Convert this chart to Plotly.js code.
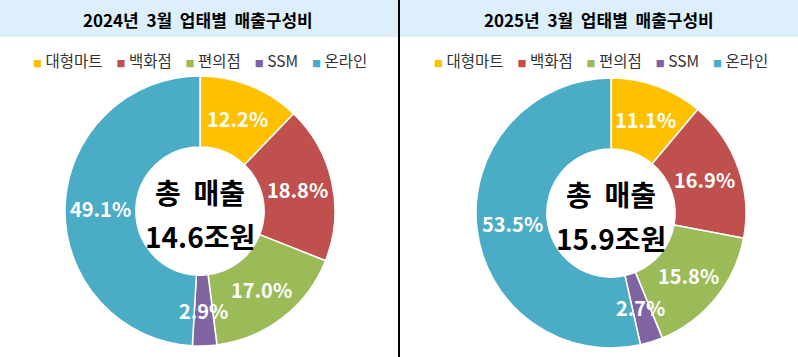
<!DOCTYPE html>
<html>
<head>
<meta charset="utf-8">
<script src="https://cdn.plot.ly/plotly-3.0.1.min.js"></script>
<style>html,body{margin:0;padding:0;background:#fff;}#chart{width:798px;height:357px;}</style>
</head>
<body>
<div id="chart"></div>
<script>
// ---- data ----
const categories = ['대형마트', '백화점', '편의점', 'SSM', '온라인'];
const values2024 = [12.2, 18.8, 17.0, 2.9, 49.1];
const values2025 = [11.1, 16.9, 15.8, 2.7, 53.5];
const titles = ['2024년\u00a0\u00a03월\u00a0\u00a0업태별\u00a0\u00a0매출구성비', '2025년\u00a0\u00a03월\u00a0\u00a0업태별\u00a0\u00a0매출구성비'];
const totalLabel = '총\u00a0\u00a0매출';
const totals = ['14.6조원', '15.9조원'];

// ---- styling ----
const colors = ['#FFC000', '#C0504D', '#9BBB59', '#8064A2', '#4BACC6'];
const FONT = '"Noto Sans CJK KR", "Noto Sans", sans-serif';
const W = 798, H = 357;
const HOLE = 0.475;
const panels = [
  {cx: 200, cy: 211, r: 135, mid: 200, values: values2024},
  {cx: 611, cy: 213, r: 135, mid: 601, values: values2025}
];
const px = x => x / W;
const py = y => 1 - y / H;

const traces = [];
const annotations = [];
const shapes = [
  {type: 'rect', xref: 'paper', yref: 'paper', x0: 0, x1: 1, y0: py(37), y1: 1,
   fillcolor: '#DDEFFA', line: {width: 0}, layer: 'below'},
  {type: 'line', xref: 'paper', yref: 'paper', x0: px(399), x1: px(399), y0: 0, y1: 1,
   line: {color: '#000', width: 2}}
];

panels.forEach((p, k) => {
  traces.push({
    type: 'pie',
    labels: categories,
    values: p.values,
    sort: false,
    direction: 'clockwise',
    rotation: 0,
    hole: HOLE,
    textinfo: 'none',
    marker: {colors: colors, line: {color: '#FFFFFF', width: 1.5}},
    showlegend: false,
    domain: {x: [px(p.cx - p.r), px(p.cx + p.r)], y: [py(p.cy + p.r), py(p.cy - p.r)]}
  });
  // percentage labels at mid-ring, mid-slice angle
  const total = p.values.reduce((a, b) => a + b, 0);
  const R = p.r * (1 + HOLE) / 2;
  let cum = 0;
  p.values.forEach((v, i) => {
    const th = (cum + v / 2) / total * 2 * Math.PI;
    cum += v;
    annotations.push({
      xref: 'paper', yref: 'paper',
      x: px(p.cx + R * Math.sin(th)), y: py(p.cy - R * Math.cos(th)),
      text: '<b>' + v.toFixed(1) + '%</b>', showarrow: false,
      xanchor: 'center', yanchor: 'middle',
      font: {family: FONT, size: 20, color: '#FFFFFF'}
    });
  });
  // center text
  annotations.push({xref: 'paper', yref: 'paper', x: px(p.cx), y: py(p.cy - 19),
    text: '<b>' + totalLabel + '</b>', showarrow: false, xanchor: 'center', yanchor: 'middle',
    font: {family: FONT, size: 28, color: '#000'}});
  annotations.push({xref: 'paper', yref: 'paper', x: px(p.cx), y: py(p.cy + 25),
    text: '<b>' + totals[k] + '</b>', showarrow: false, xanchor: 'center', yanchor: 'middle',
    font: {family: FONT, size: 28, color: '#000'}});
  // title
  annotations.push({xref: 'paper', yref: 'paper', x: px(p.mid - 2), y: py(19),
    text: '<b>' + titles[k] + '</b>', showarrow: false, xanchor: 'center', yanchor: 'middle',
    font: {family: FONT, size: 17, color: '#000'}});
  // legend
  const legendText = categories.map((c, i) =>
    '<span style="color:' + colors[i] + ';font-size:9px">■</span>\u00a0' + c).join('\u00a0\u00a0\u00a0\u00a0');
  annotations.push({xref: 'paper', yref: 'paper', x: px(p.mid), y: py(60),
    text: legendText, showarrow: false, xanchor: 'center', yanchor: 'middle',
    font: {family: FONT, size: 15.5, color: '#333'}});
});

Plotly.newPlot('chart', traces, {
  width: W, height: H,
  margin: {l: 0, r: 0, t: 0, b: 0},
  paper_bgcolor: '#FFFFFF',
  annotations: annotations,
  shapes: shapes
}, {displayModeBar: false, staticPlot: true});
</script>
</body>
</html>
